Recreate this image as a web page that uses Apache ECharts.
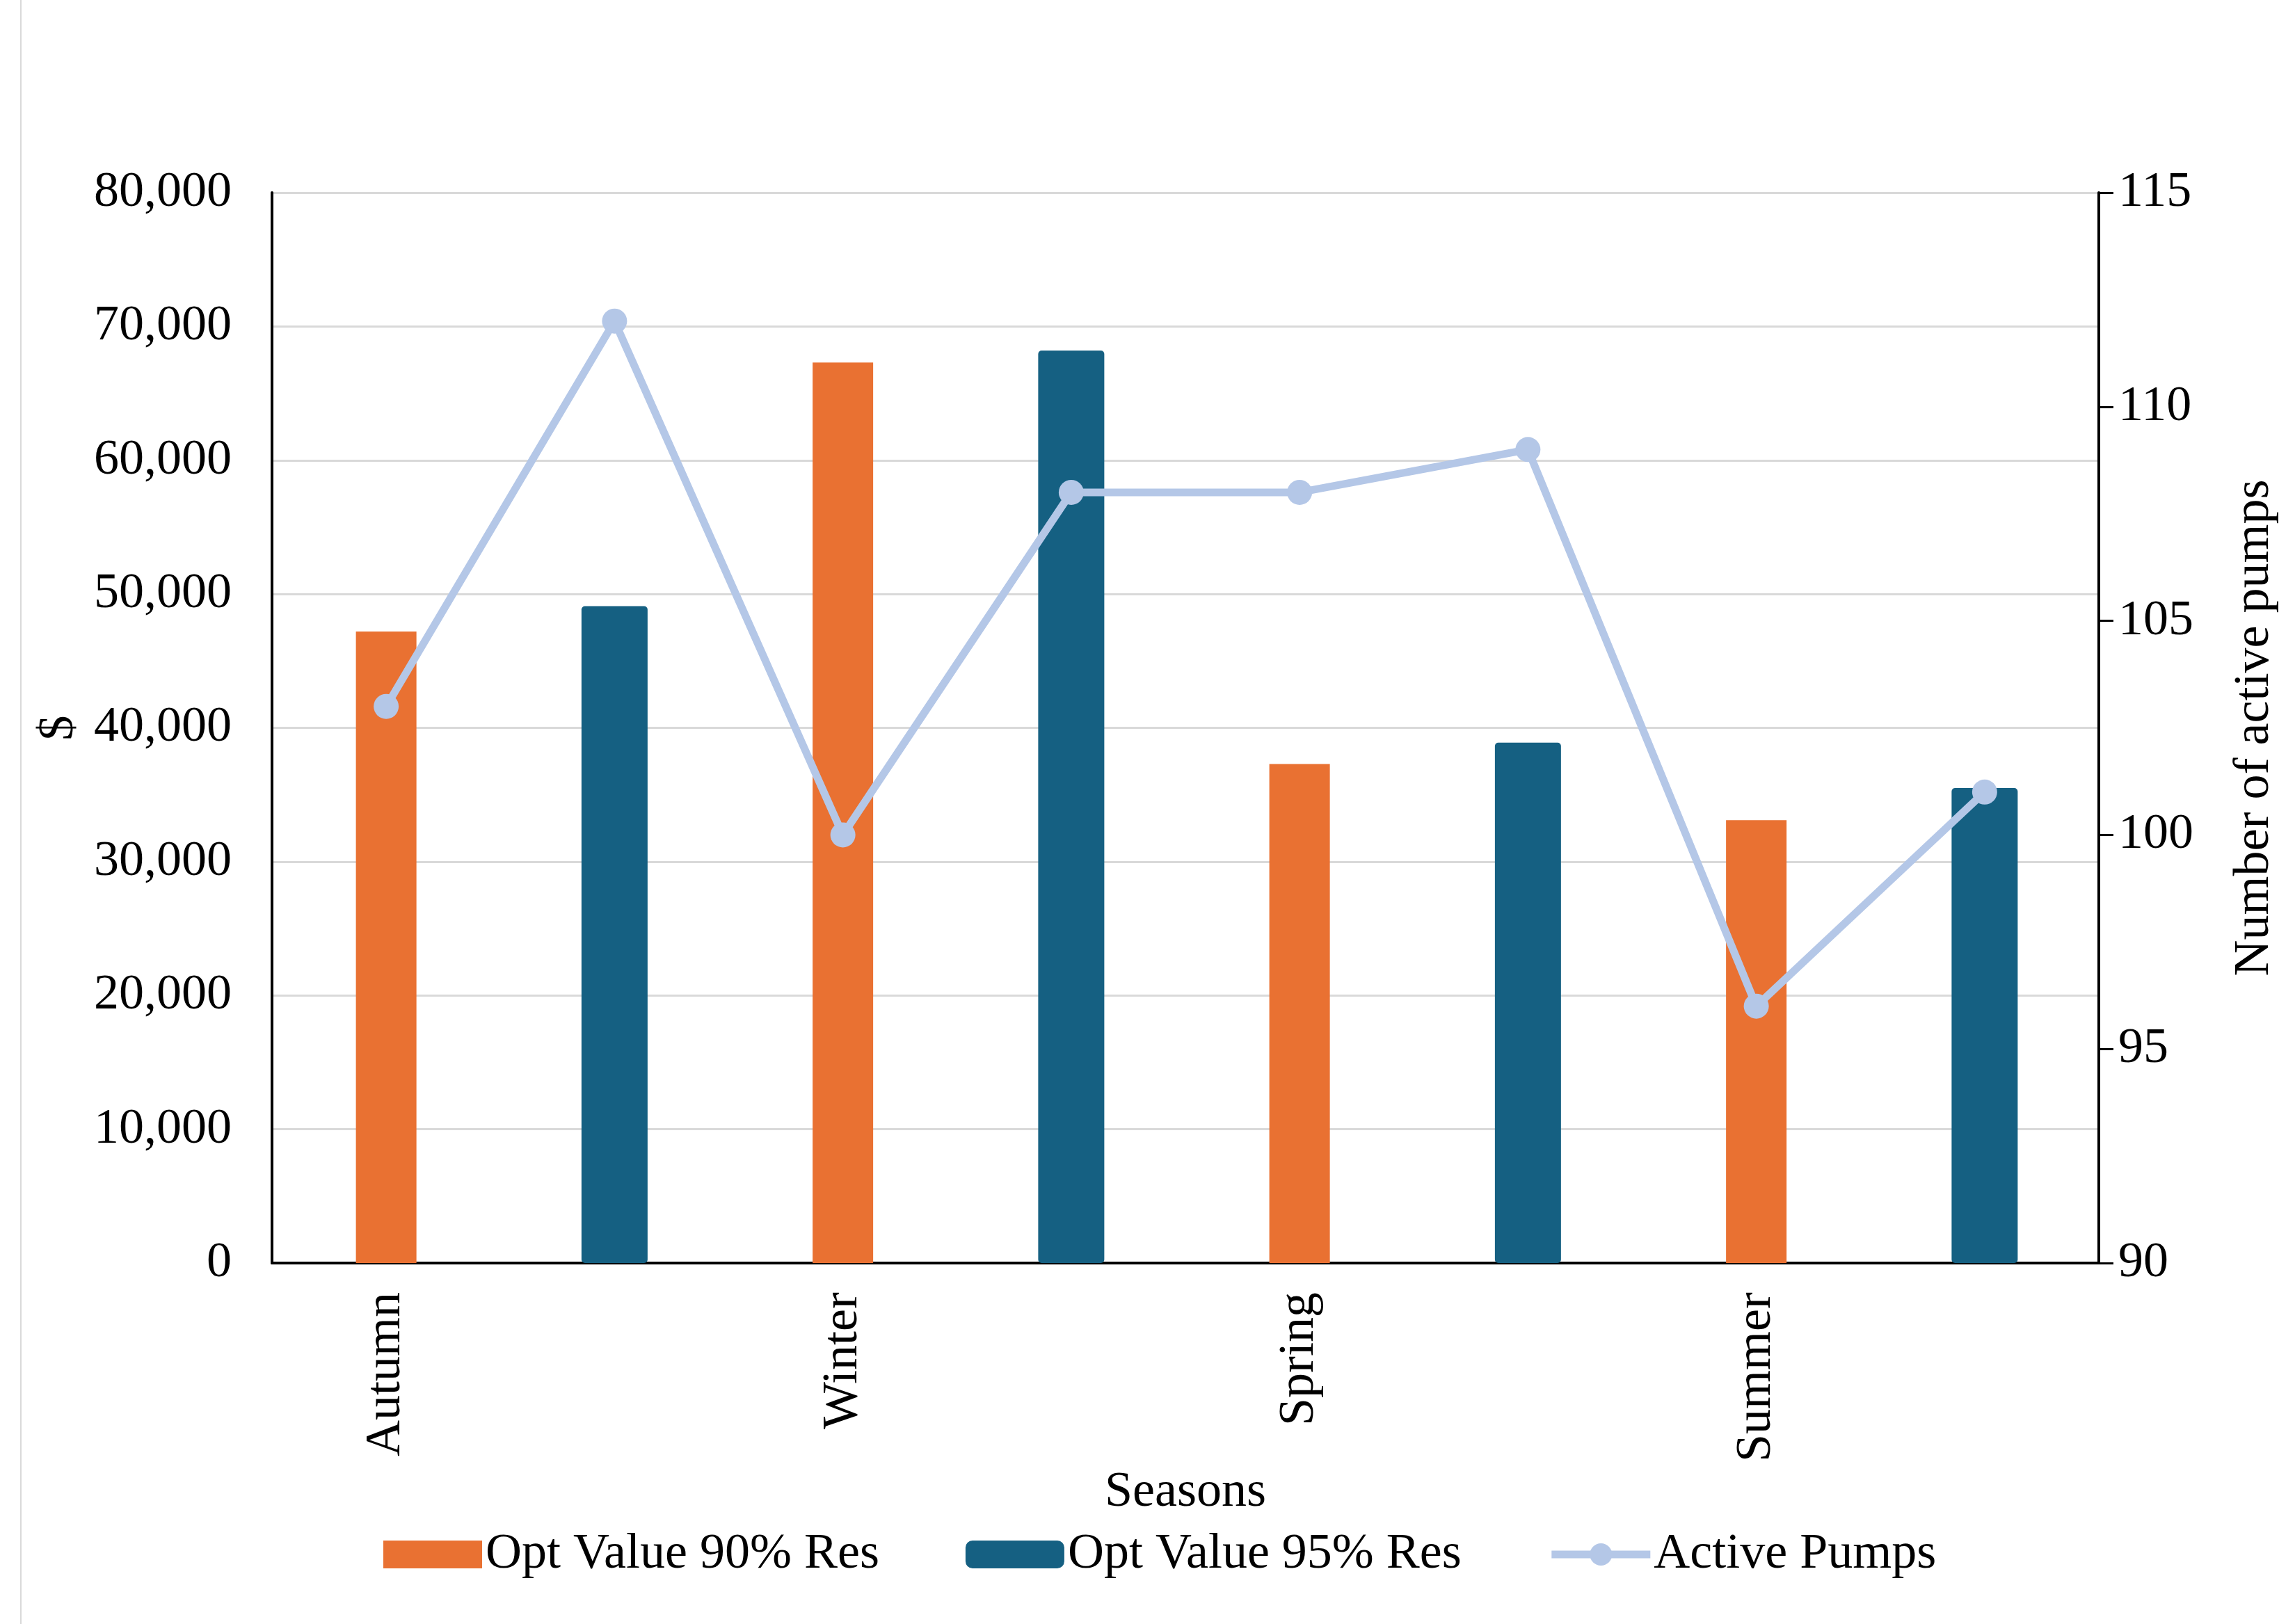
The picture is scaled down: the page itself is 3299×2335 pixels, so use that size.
<!DOCTYPE html>
<html>
<head>
<meta charset="utf-8">
<script src="https://cdn.jsdelivr.net/npm/echarts@6/dist/echarts.min.js"></script>
<style>
  html, body { margin: 0; padding: 0; background: #ffffff; }
  #chart { width: 3299px; height: 2335px; }
</style>
</head>
<body>
<div id="chart"></div>
<script>
// ---- Data ----
const slotLabels = ['Autumn', '', 'Winter', '', 'Spring', '', 'Summer', ''];
const optValue90 = [47200, null, 67300, null, 37300, null, 33100, null];
const optValue95 = [null, 49100, null, 68200, null, 38900, null, 35500];
const activePumps = [103, 112, 100, 108, 108, 109, 96, 101];
const leftTicks = { min: 0, max: 80000, interval: 10000 };
const rightTicks = { min: 90, max: 115, interval: 5 };
const seriesNames = ['Opt Value 90% Res', 'Opt Value 95% Res', 'Active Pumps'];

// ---- Styles ----
const FONT = "'Liberation Serif', 'Times New Roman', serif";
const FS = 72;
const ORANGE = '#e97132';
const BLUE = '#156082';
const LIGHTBLUE = '#b4c7e7';

const chart = echarts.init(document.getElementById('chart'), null, { renderer: 'canvas' });

const option = {
  backgroundColor: '#ffffff',
  animation: false,
  textStyle: { fontFamily: FONT, color: '#000' },
  graphic: [{
    type: 'line',
    shape: { x1: 30, y1: 0, x2: 30, y2: 2335 },
    style: { stroke: '#d9d9d9', lineWidth: 2 }
  }],
  grid: { left: 391, right: 282, top: 277, bottom: 519, containLabel: false },
  legend: {
    left: 546,
    top: 2194,
    itemWidth: 142,
    itemHeight: 40,
    itemGap: 124,
    textStyle: { fontFamily: FONT, fontSize: FS, color: '#000' },
    data: [
      { name: seriesNames[0], icon: 'rect' },
      { name: seriesNames[1], icon: 'roundRect' },
      { name: seriesNames[2], lineStyle: { width: 11 } }
    ]
  },
  xAxis: [{
    type: 'category',
    data: slotLabels,
    name: 'Seasons',
    nameLocation: 'middle',
    nameGap: 270,
    nameTextStyle: { fontFamily: FONT, fontSize: FS, color: '#000' },
    axisLine: { show: true, onZero: false, lineStyle: { color: '#000', width: 4 } },
    axisTick: { show: false },
    axisLabel: { interval: 0, rotate: 90, margin: 42, fontFamily: FONT, fontSize: FS, color: '#000' },
    splitLine: { show: false }
  }, {
    type: 'category',
    data: slotLabels,
    show: false
  }],
  yAxis: [{
    type: 'value',
    min: leftTicks.min, max: leftTicks.max, interval: leftTicks.interval,
    name: '$',
    nameLocation: 'middle',
    nameGap: 270,
    nameRotate: 90,
    nameTextStyle: { fontFamily: FONT, fontSize: FS, color: '#000' },
    axisLine: { show: true, lineStyle: { color: '#000', width: 4 } },
    axisTick: { show: false },
    axisLabel: {
      margin: 58, fontFamily: FONT, fontSize: FS, color: '#000',
      formatter: v => v.toLocaleString('en-US')
    },
    splitLine: { show: true, lineStyle: { color: '#d9d9d9', width: 3 } }
  }, {
    type: 'value',
    position: 'right',
    min: rightTicks.min, max: rightTicks.max, interval: rightTicks.interval,
    name: 'Number of active pumps',
    nameLocation: 'middle',
    nameGap: 188,
    nameRotate: 90,
    nameTextStyle: { fontFamily: FONT, fontSize: FS, color: '#000' },
    axisLine: { show: true, lineStyle: { color: '#000', width: 4 } },
    axisTick: { show: true, inside: false, length: 21, lineStyle: { color: '#000', width: 3 } },
    axisLabel: { margin: 28, fontFamily: FONT, fontSize: FS, color: '#000' },
    splitLine: { show: false }
  }],
  series: [{
    name: seriesNames[0],
    type: 'bar',
    xAxisIndex: 0,
    yAxisIndex: 0,
    barWidth: 87,
    itemStyle: { color: ORANGE },
    data: optValue90,
    z: 2
  }, {
    name: seriesNames[1],
    type: 'bar',
    xAxisIndex: 1,
    yAxisIndex: 0,
    barWidth: 95,
    itemStyle: { color: BLUE, borderRadius: 5 },
    data: optValue95,
    z: 2
  }, {
    name: seriesNames[2],
    type: 'line',
    xAxisIndex: 0,
    yAxisIndex: 1,
    symbol: 'circle',
    symbolSize: 36,
    lineStyle: { color: LIGHTBLUE, width: 11 },
    itemStyle: { color: LIGHTBLUE },
    data: activePumps,
    z: 5
  }]
};

chart.setOption(option);
</script>
</body>
</html>
